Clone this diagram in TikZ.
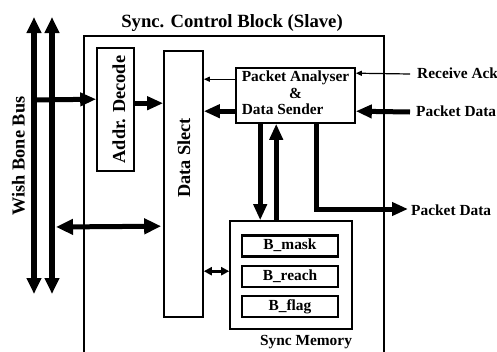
\documentclass[tikz,border=0pt]{standalone}
\usepackage{fontspec}
\setmainfont{Liberation Serif}
\usetikzlibrary{arrows.meta,calc}
\begin{document}
\begin{tikzpicture}[x=1pt,y=-1pt,
  box/.style={draw, line width=1.6pt, inner sep=0pt},
  regbox/.style={draw, line width=2.2pt, minimum width=96pt, minimum height=21pt, inner sep=0pt,
    font=\fontsize{15.4}{17}\selectfont\bfseries, text height=10.5pt, text depth=3pt},
  lbl/.style={inner sep=0pt, font=\fontsize{15.4}{16.5}\selectfont\bfseries},
  biglbl/.style={inner sep=0pt, font=\fontsize{18.3}{20}\selectfont\bfseries},
  busarrow/.style={line width=5.5pt, {Triangle[width=14pt,length=16pt]}-{Triangle[width=14pt,length=16pt]}},
  fatarrow/.style={line width=5pt, -{Triangle[width=13pt,length=16pt]}},
  fatduplex/.style={line width=5pt, {Triangle[width=15pt,length=17pt]}-{Triangle[width=15pt,length=17pt]}},
  thinarrow/.style={line width=1.2pt, -{Triangle[width=5pt,length=6pt]}},
  smallduplex/.style={line width=3pt, {Triangle[width=8pt,length=8pt]}-{Triangle[width=8pt,length=8pt]}}
]
\clip (0,0) rectangle (497,351);

% enclosing block (runs past the lower edge)
\node[box, anchor=north west, minimum width=300pt, minimum height=400pt] (blk) at (83,35) {};
\node[biglbl, font=\fontsize{18.7}{20}\selectfont\bfseries, anchor=base] (title) at (232,27) {Sync. Control Block (Slave)};

% Wishbone bus
\coordinate (busAtop) at (34,17);
\coordinate (busAbot) at (34,294);
\coordinate (busBtop) at (52,17);
\coordinate (busBbot) at (52,294);
\draw[busarrow] (busAtop) -- (busAbot);
\draw[busarrow] (busBtop) -- (busBbot);
\node[biglbl, rotate=90, anchor=base] (buslbl) at (24.5,156) {Wish Bone Bus};

% functional blocks
\node[box, minimum width=37pt, minimum height=123pt] (addr) at (115.5,109.5) {};
\node[biglbl, rotate=90, anchor=base] (addrlbl) at (125,109.5) {Addr. Decode};
\node[box, minimum width=39pt, minimum height=266pt] (ds) at (183.5,184) {};
\node[biglbl, rotate=90, anchor=base] (dslbl) at (190,158) {Data Slect};
\node[box, minimum width=119pt, minimum height=55pt] (pa) at (295.5,95.5) {};
\node[lbl] (palbl) at (295.5,95) {\begin{tabular}{@{}l@{}}Packet Analyser\\\multicolumn{1}{@{}c@{}}{\&}\\Data Sender\end{tabular}};

% sync memory
\node[box, minimum width=122pt, minimum height=108pt] (sm) at (291,275) {};
\node[regbox] (bmask) at (290,246) {B\_mask};
\node[regbox] (breach) at (290,276.5) {B\_reach};
\node[regbox] (bflag) at (290,306.5) {B\_flag};
\node[lbl, anchor=base] (smlbl) at (306,345.5) {Sync Memory};

% external signals
\coordinate (ackin) at (410,74);
\coordinate (pdin) at (410,112);
\coordinate (pdtip) at (408,209);
\node[lbl, anchor=base west] (acklbl) at (417,78.5) {Receive Ack};
\node[lbl, anchor=base west] (pdinlbl) at (416,116) {Packet Data};
\node[lbl, anchor=base west] (pdoutlbl) at (411,215) {Packet Data};

% connections
\draw[fatarrow] ($(busAtop)+(0,83)$) -- ($(addr.north west)+(0,52)$);
\draw[fatarrow] ($(addr.north east)+(0,56)$) -- ($(ds.north west)+(0,53)$);
\draw[thinarrow] ($(pa.north west)+(0,12)$) -- ($(ds.north east)+(0,29)$);
\draw[fatarrow] ($(pa.north west)+(0,44)$) -- ($(ds.north east)+(0,61)$);
\draw[thinarrow] (ackin) -- ($(pa.north east)+(0,6)$);
\draw[fatarrow] (pdin) -- ($(pa.north east)+(0,44)$);
\draw[fatarrow] ($(pa.south west)+(25,0)$) -- ($(sm.north west)+(31,0)$);
\draw[fatarrow] ($(sm.north west)+(47,0)$) -- ($(pa.south west)+(41,0)$);
\draw[fatarrow] ($(pa.south west)+(81,0)$) |- (pdtip);
\draw[smallduplex] ($(ds.north east)+(0,221)$) -- ($(sm.north west)+(0,51)$);
\draw[fatduplex] ($(busBtop)+(4,210)$) -- ($(ds.north west)+(-2,176)$);
\end{tikzpicture}
\end{document}
